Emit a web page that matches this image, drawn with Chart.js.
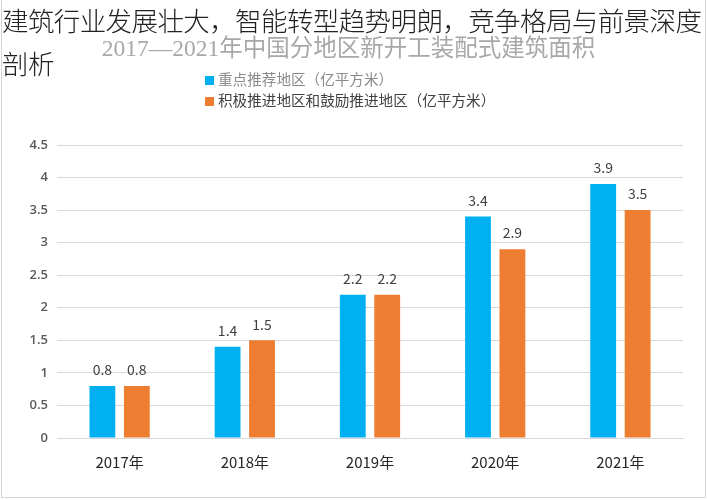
<!DOCTYPE html>
<html>
<head>
<meta charset="utf-8">
<script src="https://cdn.jsdelivr.net/npm/chart.js@4/dist/chart.umd.min.js"></script>
<style>
  body { margin: 0; background: #fff; }
  #wrap { position: relative; width: 707px; height: 500px; overflow: hidden; }
  #frame { position: absolute; left: 1px; top: -2px; width: 705px; height: 500px; border: 1px solid #d4d4d4; box-sizing: border-box; }
  #headline { position: absolute; left: 2px; top: -2px; width: 710px; font-family: "Noto Sans CJK SC", sans-serif; font-weight: 300; font-size: 26.5px; line-height: 43px; color: #222; z-index: 3; letter-spacing: -0.6px; }
  #subtitle { position: absolute; left: 0; width: 707px; top: 29px; text-align: center; padding-right: 10px; box-sizing: border-box; font-family: "Liberation Serif", "Noto Sans CJK SC", serif; font-weight: normal; font-size: 23.5px; color: #a8a8a8; z-index: 2; }
  #legend { position: absolute; left: 205px; top: 68px; font-family: "Noto Sans CJK SC", sans-serif; font-size: 14.6px; z-index: 2; }
  #legend div { height: 21px; line-height: 21px; white-space: nowrap; }
  #legend span.box { display: inline-block; width: 9px; height: 9px; margin-right: 4px; vertical-align: middle; position: relative; top: -1px; }
  canvas { position: absolute; left: 0; top: 0; }
</style>
</head>
<body>
<div id="wrap">
  <div id="frame"></div>
  <div id="headline">建筑行业发展壮大，智能转型趋势明朗，竞争格局与前景深度剖析</div>
  <div id="subtitle">2017—2021年中国分地区新开工装配式建筑面积</div>
  <div id="legend"></div>
  <canvas id="grafico" width="707" height="500"></canvas>
</div>
<script>
var categorias = ['2017年', '2018年', '2019年', '2020年', '2021年'];
var zonaClave = [0.8, 1.4, 2.2, 3.4, 3.9];
var zonaActiva = [0.8, 1.5, 2.2, 2.9, 3.5];
var nombresSeries = ['重点推荐地区（亿平方米）', '积极推进地区和鼓励推进地区（亿平方米）'];
var coloresSeries = ['#00b0f0', '#ed7d31'];
var coloresLeyenda = ['#8a8a8a', '#404040'];
var ticksY = [0, 0.5, 1, 1.5, 2, 2.5, 3, 3.5, 4, 4.5];

var leyenda = document.getElementById('legend');
nombresSeries.forEach(function(nombre, i) {
    var fila = document.createElement('div');
    fila.style.color = coloresLeyenda[i];
    var caja = document.createElement('span');
    caja.className = 'box';
    caja.style.background = coloresSeries[i];
    fila.appendChild(caja);
    fila.appendChild(document.createTextNode(nombre));
    leyenda.appendChild(fila);
});

// etiquetas de valor encima de cada barra
var etiquetasValor = {
    id: 'etiquetasValor',
    afterDatasetsDraw: function(chart) {
        var ctx = chart.ctx;
        ctx.save();
        ctx.font = '14px "Noto Sans CJK SC", sans-serif';
        ctx.fillStyle = '#404040';
        ctx.textAlign = 'center';
        ctx.textBaseline = 'bottom';
        chart.data.datasets.forEach(function(ds, i) {
            chart.getDatasetMeta(i).data.forEach(function(bar, j) {
                ctx.fillText(ds.data[j].toFixed(1), bar.x, bar.y - 9);
            });
        });
        ctx.restore();
    }
};

var ctx = document.getElementById('grafico').getContext('2d');
var grafico = new Chart(ctx, {
    type: 'bar',
    data: {
        labels: categorias,
        datasets: [{
            label: nombresSeries[0],
            data: zonaClave,
            backgroundColor: coloresSeries[0],
            categoryPercentage: 0.55,
            barPercentage: 0.75
        }, {
            label: nombresSeries[1],
            data: zonaActiva,
            backgroundColor: coloresSeries[1],
            categoryPercentage: 0.55,
            barPercentage: 0.75
        }]
    },
    options: {
        responsive: false,
        animation: false,
        layout: { padding: { top: 145, right: 24, bottom: 22, left: 0 } },
        plugins: { legend: { display: false }, title: { display: false }, tooltip: { enabled: false } },
        scales: {
            x: {
                grid: { display: false },
                border: { color: '#d9d9d9' },
                ticks: { color: '#262626', font: { size: 15, family: '"Noto Sans CJK SC", sans-serif' }, padding: 7 }
            },
            y: {
                min: 0,
                max: 4.5,
                afterBuildTicks: function(scale) {
                    scale.ticks = ticksY.map(function(v) { return { value: v }; });
                },
                afterFit: function(scale) { scale.width = 57; },
                grid: { color: '#d9d9d9', drawTicks: false },
                border: { display: false },
                ticks: {
                    color: '#595959',
                    font: { size: 13, family: '"Open Sans", sans-serif', weight: '600' },
                    padding: 9,
                    callback: function(v) { return String(v); }
                }
            }
        }
    },
    plugins: [etiquetasValor]
});
</script>
</body>
</html>
